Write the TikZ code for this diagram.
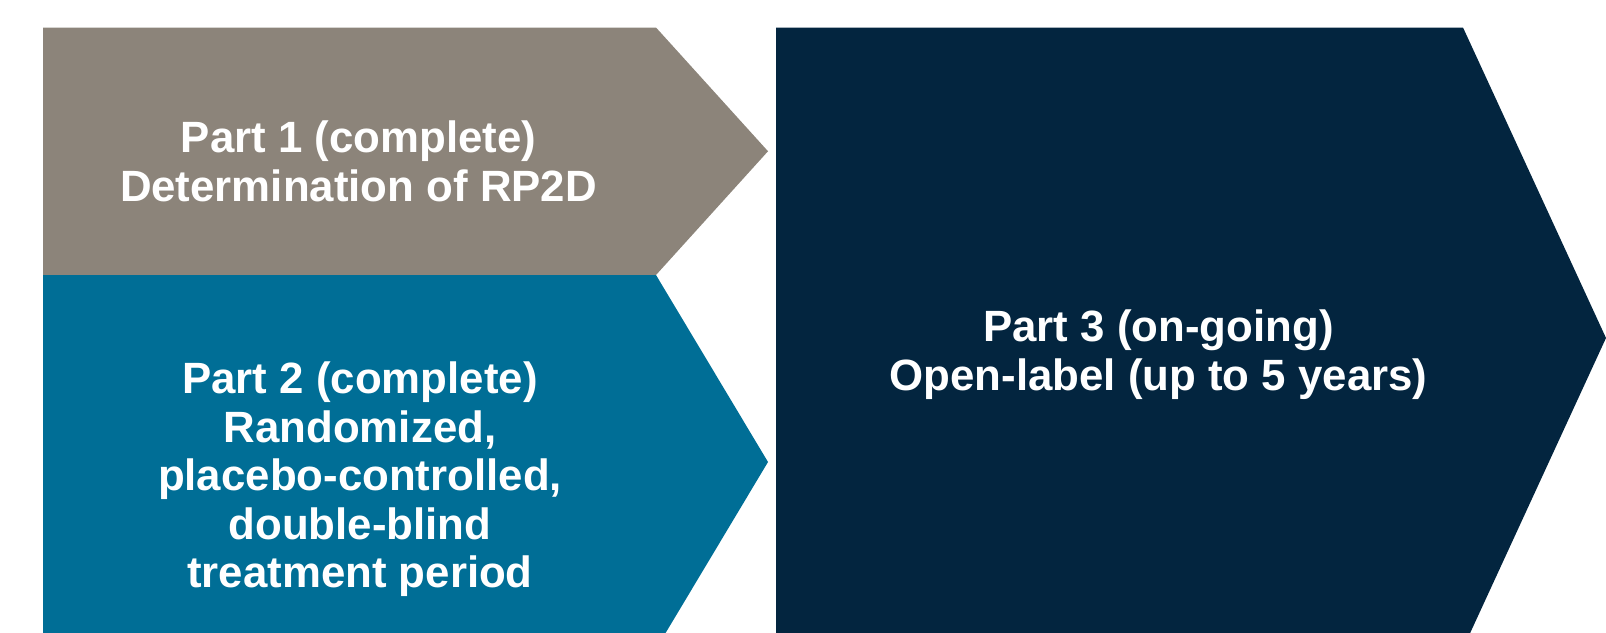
\documentclass[tikz,border=0pt]{standalone}
\usepackage{fontspec}
\setmainfont{Liberation Sans}
\definecolor{partgray}{HTML}{8C847A}
\definecolor{partteal}{HTML}{006E96}
\definecolor{partnavy}{HTML}{03253F}
\tikzset{
  phasetext/.style={text=white, font=\bfseries\fontsize{43.8}{48.5}\selectfont,
    align=center, inner sep=0pt, anchor=center}
}
\begin{document}
\begin{tikzpicture}[x=1pt, y=-1pt]
  \useasboundingbox (0,0) rectangle (1606,632);
  \begin{scope}
    \clip (0,0) rectangle (1606,632);
    % Part 1 chevron
    \fill[partgray] (43,27.5) -- (656,27.5) -- (768,151.25) -- (656,275) -- (43,275) -- cycle;
    % Part 2 chevron
    \fill[partteal] (43,275) -- (656,275) -- (768,462) -- (656,649) -- (43,649) -- cycle;
    % Part 3 chevron
    \fill[partnavy] (776,27.5) -- (1463,27.5) -- (1606,338) -- (1463,648.5) -- (776,648.5) -- cycle;
  \end{scope}
  \node[phasetext] (p1) at (358.5,161.5) {Part 1 (complete)\\Determination of RP2D};
  \node[phasetext] (p2) at (360,479.2) {Part 2 (complete)\\Randomized,\\placebo-controlled,\\double-blind\\treatment period};
  \node[phasetext] (p3) at (1158.5,354.8) {Part 3 (on-going)\\Open-label (up to 5 years)};
\end{tikzpicture}
\end{document}
